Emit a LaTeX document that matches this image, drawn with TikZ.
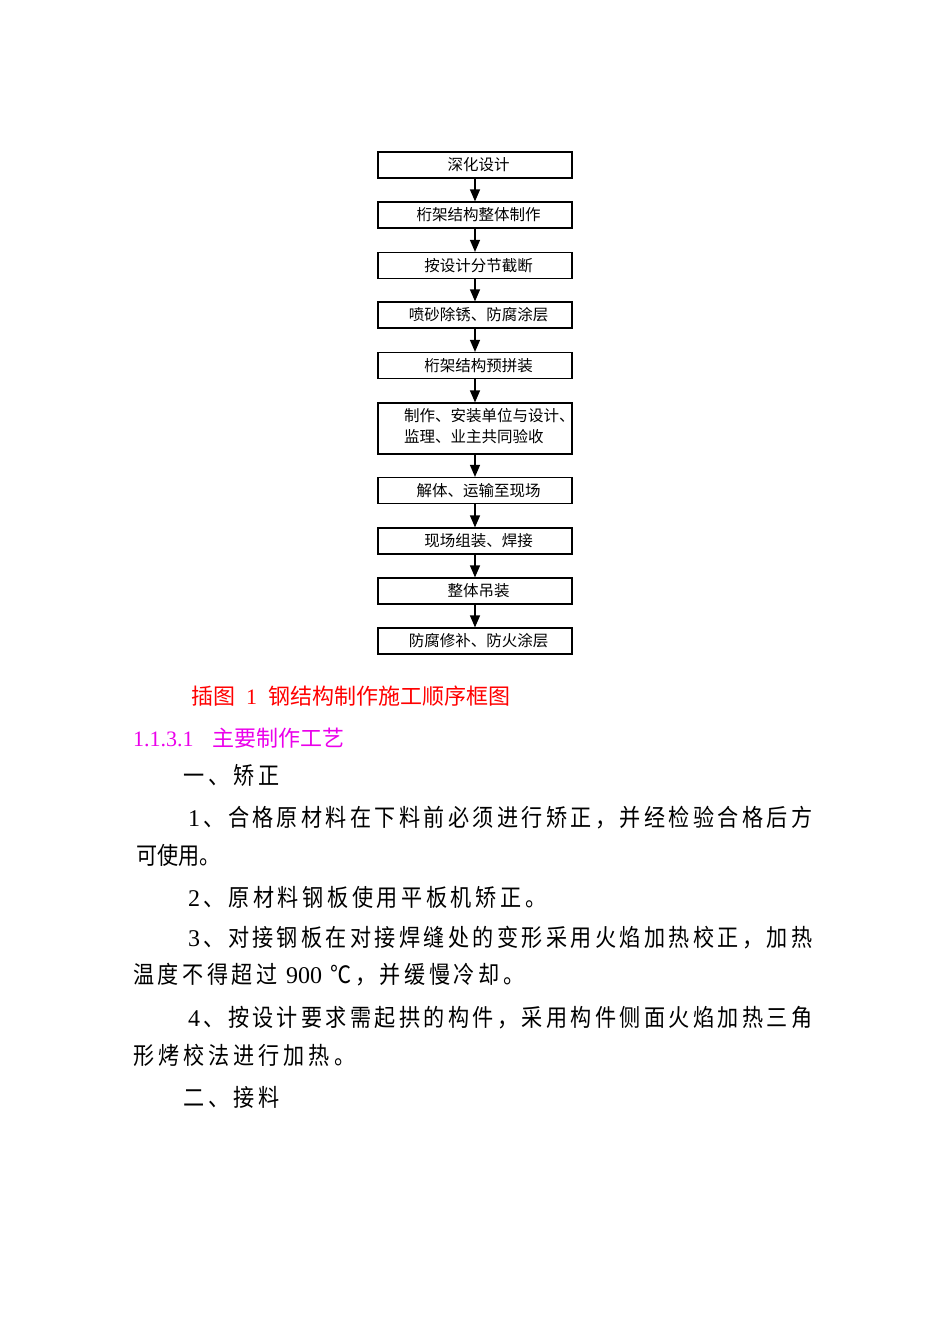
\documentclass[tikz,border=0pt]{standalone}
\usepackage{fontspec}
\setmainfont{Liberation Serif}
\newfontfamily\cjk{Noto Sans CJK SC}
\newfontfamily\cjkn[FakeStretch=0.88]{Noto Sans CJK SC}
\usetikzlibrary{arrows.meta}
\definecolor{capred}{RGB}{255,0,0}
\definecolor{headmag}{RGB}{235,0,235}
\newcommand\D[1]{{\rmfamily #1}}
\ExplSyntaxOn
\NewDocumentCommand\spreadline{m m}{\makebox[#1][s]{\tl_map_inline:nn{#2}{{##1}\hfil}\unskip}}
\ExplSyntaxOff
\tikzset{
  box/.style={draw, line width=1.2pt, minimum width=194pt, minimum height=26pt, inner sep=0pt,
    font=\cjk\fontsize{15.5}{21}\selectfont, execute at begin node={\hspace*{7pt}}},
  boxtext/.style={inner sep=0pt, font=\cjk\fontsize{15.5}{21}\selectfont},
  arr/.style={line width=1.2pt, -{Triangle[length=12pt,width=10pt]}},
  body/.style={anchor=west, inner sep=0pt, font=\cjkn\fontsize{24}{28}\selectfont},
}
\begin{document}
\begin{tikzpicture}[x=1pt,y=-1pt]
\fill[white] (0,0) rectangle (950,1344);
\useasboundingbox (0,0) rectangle (950,1344);
% flowchart
\node[box] (b1) at (475,165) {深化设计};
\node[box] (b2) at (475,215) {桁架结构整体制作};
\node[box] (b3) at (475,265.5) {按设计分节截断};
\node[box] (b4) at (475,315) {喷砂除锈、防腐涂层};
\node[box] (b5) at (475,365.5) {桁架结构预拼装};
\node[box, minimum height=51pt] (b6) at (475,428.5) {};
\node[boxtext, anchor=west, align=left] (b6t) at (404,426) {制作、安装单位与设计、\\监理、业主共同验收};
\node[box] (b7) at (475,490.5) {解体、运输至现场};
\node[box] (b8) at (475,541) {现场组装、焊接};
\node[box] (b9) at (475,591) {整体吊装};
\node[box] (b10) at (475,641) {防腐修补、防火涂层};
\draw[arr] (b1.south) -- (b2.north);
\draw[arr] (b2.south) -- (b3.north);
\draw[arr] (b3.south) -- (b4.north);
\draw[arr] (b4.south) -- (b5.north);
\draw[arr] (b5.south) -- (b6.north);
\draw[arr] (b6.south) -- (b7.north);
\draw[arr] (b7.south) -- (b8.north);
\draw[arr] (b8.south) -- (b9.north);
\draw[arr] (b9.south) -- (b10.north);
% caption and heading
\node[anchor=west, inner sep=0pt, text=capred, font=\cjk\fontsize{22}{26}\selectfont] (cap) at (191,696)
  {插图\hspace{11pt}\D{1}\hspace{11pt}钢结构制作施工顺序框图};
\node[anchor=west, inner sep=0pt, text=headmag, font=\cjk\fontsize{22}{26}\selectfont] (head) at (133,738)
  {\D{1.1.3.1}\hspace{19pt}主要制作工艺};
% body text
\node[body] (t1) at (183,775) {\spreadline{96pt}{一、矫正}};
\node[body] (t2) at (188,818) {\spreadline{624pt}{{\D{1}}、合格原材料在下料前必须进行矫正，并经检验合格后方}};
\node[body] (t3) at (136,855) {\spreadline{84pt}{可使用。}};
\node[body] (t4) at (188,897) {\spreadline{358pt}{{\D{2}}、原材料钢板使用平板机矫正。}};
\node[body] (t5) at (188,938) {\spreadline{624pt}{{\D{3}}、对接钢板在对接焊缝处的变形采用火焰加热校正，加热}};
\node[body] (t6) at (133,975) {\spreadline{391pt}{温度不得超过{\hspace{5pt}\D{900}\hspace{5pt}}℃，并缓慢冷却。}};
\node[body] (t7) at (188,1018) {\spreadline{624pt}{{\D{4}}、按设计要求需起拱的构件，采用构件侧面火焰加热三角}};
\node[body] (t8) at (133,1055) {\spreadline{222pt}{形烤校法进行加热。}};
\node[body] (t9) at (183,1097) {\spreadline{96pt}{二、接料}};
\end{tikzpicture}
\end{document}
